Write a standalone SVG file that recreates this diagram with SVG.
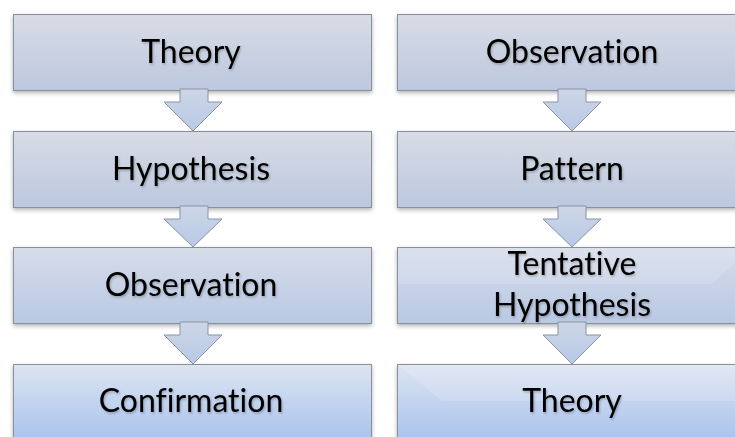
<svg xmlns="http://www.w3.org/2000/svg" width="735" height="437" viewBox="0 0 735 437">
<defs>
<linearGradient id="gA" x1="0" y1="0" x2="0" y2="1">
<stop offset="0" stop-color="#d8dce5"/><stop offset="1" stop-color="#bcc8df"/>
</linearGradient>
<linearGradient id="gB" x1="0" y1="0" x2="0" y2="1">
<stop offset="0" stop-color="#d6dde9"/><stop offset="1" stop-color="#b9c8e4"/>
</linearGradient>
<linearGradient id="gC" x1="0" y1="0" x2="0" y2="1">
<stop offset="0" stop-color="#dde4f1"/><stop offset="1" stop-color="#a9c3ee"/>
</linearGradient>
<linearGradient id="gArrow" x1="0" y1="0" x2="0" y2="1">
<stop offset="0" stop-color="#cdd6e6"/><stop offset="1" stop-color="#b8c9e6"/>
</linearGradient>
<filter id="sh" x="-5%" y="-10%" width="110%" height="130%">
<feDropShadow dx="0" dy="2" stdDeviation="2" flood-color="#000" flood-opacity="0.3"/>
</filter>
<filter id="tsh" x="-5%" y="-20%" width="110%" height="140%">
<feDropShadow dx="1" dy="1.5" stdDeviation="1" flood-color="#000" flood-opacity="0.25"/>
</filter>
</defs>
<style>
.box{stroke:#8a8f98;stroke-width:1;filter:url(#sh)}
.lbl{font-family:Lato,"Open Sans","Liberation Sans",sans-serif;font-size:32px;fill:#000;text-anchor:middle;font-variant-ligatures:none;font-feature-settings:"liga" 0;filter:url(#tsh)}
.arr{fill:url(#gArrow);stroke:#8893a6;stroke-width:1;stroke-linejoin:miter}
.gloss{fill:#ffffff;opacity:0.14}
</style>

<g id="node-theory-l">
<rect class="box" x="13.5" y="14.5" width="358" height="76" fill="url(#gA)"/>
<text class="lbl" x="191" y="63">Theory</text>
</g>
<g id="node-hypothesis-l">
<rect class="box" x="13.5" y="131.5" width="358" height="76" fill="url(#gA)"/>
<text class="lbl" x="191" y="180">Hypothesis</text>
</g>
<g id="node-observation-l">
<rect class="box" x="13.5" y="247.5" width="358" height="76" fill="url(#gB)"/>
<text class="lbl" x="191" y="296">Observation</text>
</g>
<g id="node-confirmation-l">
<rect class="box" x="13.5" y="364.5" width="358" height="76" fill="url(#gC)"/>
<text class="lbl" x="191" y="412">Confirmation</text>
</g>

<g id="node-observation-r">
<rect class="box" x="397.5" y="14.5" width="352" height="76" fill="url(#gA)"/>
<text class="lbl" x="572" y="63">Observation</text>
</g>
<g id="node-pattern-r">
<rect class="box" x="397.5" y="131.5" width="352" height="76" fill="url(#gA)"/>
<text class="lbl" x="572" y="180">Pattern</text>
</g>
<g id="node-tentative-r">
<rect class="box" x="397.5" y="247.5" width="352" height="76" fill="url(#gB)"/>
<polygon class="gloss" points="398,248 749,248 749,250 712,284 398,284"/>
<text class="lbl" x="572" y="275">Tentative</text>
<text class="lbl" x="572" y="316">Hypothesis</text>
</g>
<g id="node-theory-r">
<rect class="box" x="397.5" y="364.5" width="352" height="76" fill="url(#gC)"/>
<polygon class="gloss" points="398,365 749,365 749,401 442,401"/>
<text class="lbl" x="572" y="412">Theory</text>
</g>

<g id="connectors">
<polygon class="arr" points="180,89 208,89 208,102 222,102 193,131 164,102 180,102"/>
<polygon class="arr" points="180,206 208,206 208,219 222,219 193,247 164,219 180,219"/>
<polygon class="arr" points="180,322 208,322 208,335 222,335 193,364 164,335 180,335"/>
<polygon class="arr" points="558,89 586,89 586,102 601,102 572,131 543,102 558,102"/>
<polygon class="arr" points="558,206 586,206 586,219 601,219 572,247 543,219 558,219"/>
<polygon class="arr" points="558,322 586,322 586,335 601,335 572,364 543,335 558,335"/>
</g>
</svg>
